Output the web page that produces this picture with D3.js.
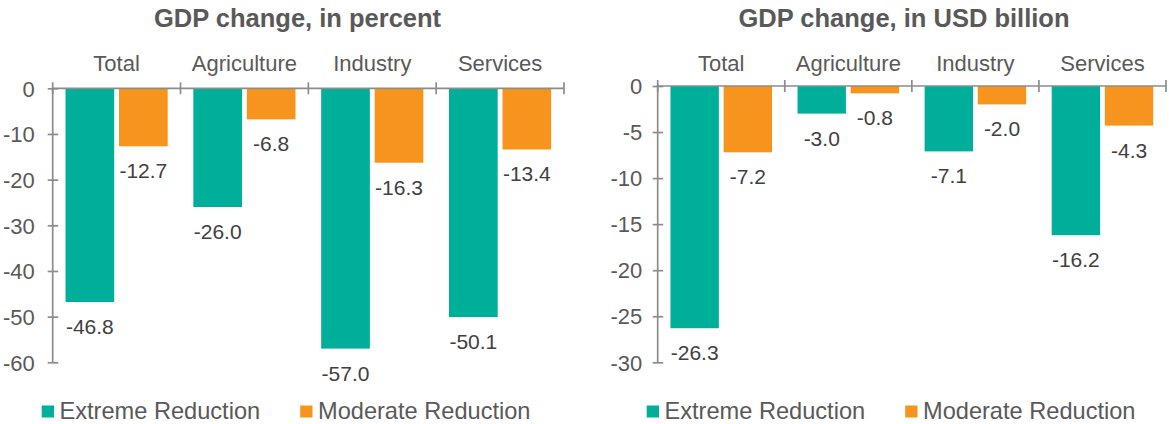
<!DOCTYPE html>
<html>
<head>
<meta charset="utf-8">
<script src="https://cdn.jsdelivr.net/npm/d3@7"></script>
<style>
  html, body { margin: 0; padding: 0; background: #ffffff; }
  svg { display: block; font-family: "Liberation Sans", Arial, sans-serif; }
</style>
</head>
<body>
<svg id="chart" width="1169" height="424"></svg>
<script>
// Sectors and scenarios
const categories = ["Total", "Agriculture", "Industry", "Services"];
const seriesNames = ["Extreme Reduction", "Moderate Reduction"];
const seriesColors = ["#00AF9A", "#F7941E"];

// GDP change, in percent
const pctExtreme = [-46.8, -26.0, -57.0, -50.1];
const pctModerate = [-12.7, -6.8, -16.3, -13.4];
const pctTicks = [0, -10, -20, -30, -40, -50, -60];

// GDP change, in USD billion
const usdExtreme = [-26.3, -3.0, -7.1, -16.2];
const usdModerate = [-7.2, -0.8, -2.0, -4.3];
const usdTicks = [0, -5, -10, -15, -20, -25, -30];

const panels = [
  {
    title: "GDP change, in percent",
    series: [pctExtreme, pctModerate],
    ticks: pctTicks,
    left: 52.7, right: 564, top: 88.3, bottom: 362.3,
    titleX: 297.5, labelGap: 18
  },
  {
    title: "GDP change, in USD billion",
    series: [usdExtreme, usdModerate],
    ticks: usdTicks,
    left: 657.7, right: 1166, top: 86, bottom: 362.3,
    titleX: 904, labelGap: 15.5
  }
];

const svg = d3.select("#chart");
const axisColor = "#8C8C8C";
const textColor = "#595959";
const valueColor = "#404040";

panels.forEach(p => {
  const g = svg.append("g");

  const x = d3.scaleBand().domain(categories).range([p.left, p.right]).padding(0);
  const xs = d3.scaleBand().domain(seriesNames).range([0, x.bandwidth()])
    .paddingInner(0.09).paddingOuter(0.24);
  const y = d3.scaleLinear()
    .domain([d3.min(p.ticks), d3.max(p.ticks)])
    .range([p.bottom, p.top]);

  // title
  g.append("text")
    .attr("x", p.titleX).attr("y", 26.7)
    .attr("text-anchor", "middle")
    .attr("font-size", 25.5).attr("font-weight", "bold")
    .attr("fill", textColor)
    .text(p.title);

  // bars
  const rows = [];
  categories.forEach((c, i) => {
    seriesNames.forEach((s, j) => {
      rows.push({ cat: c, name: s, value: p.series[j][i], color: seriesColors[j] });
    });
  });

  g.selectAll("rect.bar").data(rows).join("rect")
    .attr("class", "bar")
    .attr("x", d => x(d.cat) + xs(d.name))
    .attr("y", d => y(Math.max(0, d.value)))
    .attr("width", xs.bandwidth())
    .attr("height", d => Math.abs(y(d.value) - y(0)))
    .attr("fill", d => d.color);

  // value labels under the bar ends
  g.selectAll("text.val").data(rows).join("text")
    .attr("class", "val")
    .attr("x", d => x(d.cat) + xs(d.name) + xs.bandwidth() / 2)
    .attr("y", d => y(d.value) + 32)
    .attr("text-anchor", "middle")
    .attr("font-size", 21)
    .attr("fill", valueColor)
    .text(d => d3.format(".1f")(d.value).replace("−", "-"));

  // value axis with ticks crossing the line
  const yAxis = d3.axisLeft(y).tickValues(p.ticks).tickSize(0).tickPadding(0)
    .tickFormat(d => String(d));
  const ya = g.append("g").attr("transform", `translate(${p.left},0)`).call(yAxis);
  ya.select(".domain").remove();
  ya.selectAll(".tick text")
    .attr("x", -p.labelGap).attr("dy", "0.35em")
    .attr("font-size", 22).attr("font-family", "Liberation Sans, Arial, sans-serif")
    .attr("fill", textColor);
  ya.selectAll(".tick").append("line")
    .attr("x1", -5).attr("x2", 5.5)
    .attr("stroke", axisColor).attr("stroke-width", 1.7);
  g.append("line")
    .attr("x1", p.left).attr("x2", p.left)
    .attr("y1", y(d3.max(p.ticks))).attr("y2", y(d3.min(p.ticks)))
    .attr("stroke", axisColor).attr("stroke-width", 1.7);

  // category axis along zero, labels above the plot
  const boundaries = categories.map(c => x(c)).concat([x(categories[categories.length - 1]) + x.bandwidth()]);
  g.append("line")
    .attr("x1", p.left).attr("x2", p.right)
    .attr("y1", y(0)).attr("y2", y(0))
    .attr("stroke", axisColor).attr("stroke-width", 1.7);
  g.selectAll("line.ctick").data(boundaries).join("line")
    .attr("class", "ctick")
    .attr("x1", d => d).attr("x2", d => d)
    .attr("y1", y(0) - 6).attr("y2", y(0) + 6)
    .attr("stroke", axisColor).attr("stroke-width", 1.7);
  g.selectAll("text.cat").data(categories).join("text")
    .attr("class", "cat")
    .attr("x", d => x(d) + x.bandwidth() / 2)
    .attr("y", 70.7)
    .attr("text-anchor", "middle")
    .attr("font-size", 22)
    .attr("fill", textColor)
    .text(d => d);

  // legend
  const legendX = [p.left - 11, p.left - 11 + 258.5];
  const lg = g.selectAll("g.leg").data(seriesNames).join("g")
    .attr("class", "leg")
    .attr("transform", (d, i) => `translate(${legendX[i]},0)`);
  lg.append("rect")
    .attr("x", 0).attr("y", 405.5).attr("width", 12.3).attr("height", 12)
    .attr("fill", (d, i) => seriesColors[i]);
  lg.append("text")
    .attr("x", 17.8).attr("y", 418.5)
    .attr("font-size", 23.6)
    .attr("fill", textColor)
    .text(d => d);
});
</script>
</body>
</html>
